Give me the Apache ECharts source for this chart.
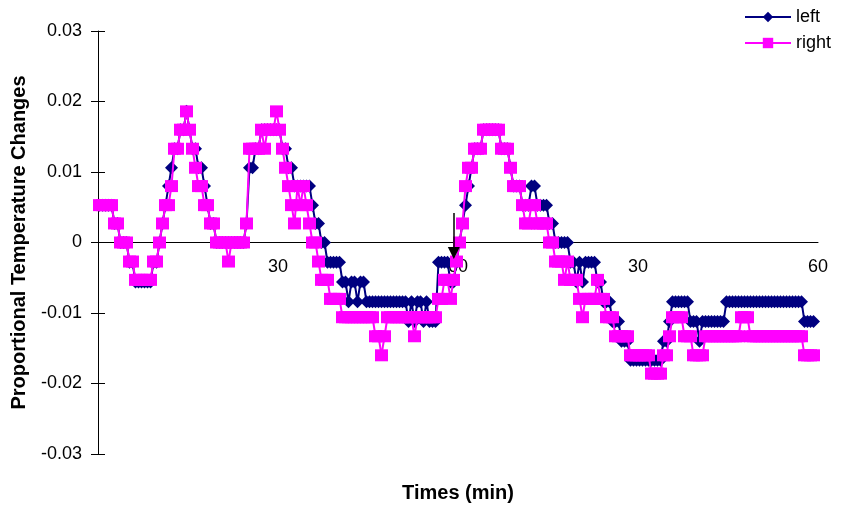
<!DOCTYPE html>
<html><head><meta charset="utf-8">
<script src="https://cdn.jsdelivr.net/npm/echarts@6/dist/echarts.min.js"></script>
<style>html,body{margin:0;padding:0;background:#fff}#c{width:841px;height:507px}</style>
</head><body><div id="c"></div>
<script>
// sample times (min), one reading every half minute, two 60-min sessions back to back
const times = Array.from({length: 239}, (_, i) => 0.25 + 0.5 * i);

const left = [
0.0053,0.0053,0.0053,0.0053,0.0053,0.0027,0.0027,0,0,0,
-0.0028,-0.0028,-0.0056,-0.0056,-0.0056,-0.0056,-0.0056,-0.0056,-0.0028,-0.0028,
0,0.0027,0.0053,0.008,0.0106,0.0133,0.0133,0.016,0.016,0.0186,
0.016,0.0133,0.0133,0.0106,0.0106,0.008,0.0053,0.0027,0.0027,0,
0,0,0,0,0,0,0,0,0,0.0027,
0.0106,0.0106,0.0133,0.0133,0.016,0.016,0.016,0.016,0.016,0.016,
0.016,0.0133,0.0133,0.0106,0.0106,0.008,0.008,0.008,0.008,0.008,
0.008,0.0053,0.0027,0.0027,0,0,-0.0028,-0.0028,-0.0028,-0.0028,
-0.0028,-0.0056,-0.0056,-0.0084,-0.0056,-0.0056,-0.0084,-0.0056,-0.0056,-0.0084,
-0.0084,-0.0084,-0.0084,-0.0084,-0.0084,-0.0084,-0.0084,-0.0084,-0.0084,-0.0084,
-0.0084,-0.0084,-0.0084,-0.0112,-0.0084,-0.0112,-0.0084,-0.0084,-0.0112,-0.0084,
-0.0112,-0.0112,-0.0112,-0.0028,-0.0028,-0.0028,-0.0028,-0.0056,-0.0056,-0.0028,
0,0.0027,0.0053,0.008,0.0106,0.0133,0.0133,0.0133,0.016,0.016,
0.016,0.016,0.016,0.016,0.0133,0.0133,0.0133,0.0106,0.008,0.008,
0.008,0.0053,0.0053,0.0053,0.008,0.008,0.0053,0.0053,0.0053,0.0053,
0.0027,0.0027,0,0,0,0,0,-0.0028,-0.0028,-0.0056,
-0.0028,-0.0056,-0.0028,-0.0028,-0.0028,-0.0028,-0.0056,-0.0056,-0.0084,-0.0084,
-0.0084,-0.0112,-0.0112,-0.0112,-0.014,-0.014,-0.014,-0.0167,-0.0167,-0.0167,
-0.0167,-0.0167,-0.0167,-0.0167,-0.0167,-0.0167,-0.0167,-0.0167,-0.014,-0.014,
-0.0112,-0.0084,-0.0084,-0.0084,-0.0084,-0.0084,-0.0084,-0.0112,-0.0112,-0.0112,
-0.014,-0.0112,-0.0112,-0.0112,-0.0112,-0.0112,-0.0112,-0.0112,-0.0112,-0.0084,
-0.0084,-0.0084,-0.0084,-0.0084,-0.0084,-0.0084,-0.0084,-0.0084,-0.0084,-0.0084,
-0.0084,-0.0084,-0.0084,-0.0084,-0.0084,-0.0084,-0.0084,-0.0084,-0.0084,-0.0084,
-0.0084,-0.0084,-0.0084,-0.0084,-0.0084,-0.0112,-0.0112,-0.0112,-0.0112
];

const right = [
0.0053,0.0053,0.0053,0.0053,0.0053,0.0027,0.0027,0,0,0,
-0.0027,-0.0027,-0.0053,-0.0053,-0.0053,-0.0053,-0.0053,-0.0053,-0.0027,-0.0027,
0,0.0027,0.0053,0.0053,0.008,0.0133,0.0133,0.016,0.016,0.0186,
0.016,0.0133,0.0106,0.008,0.008,0.0053,0.0053,0.0027,0.0027,0,
0,0,0,-0.0027,0,0,0,0,0,0.0027,
0.0133,0.0133,0.0133,0.0133,0.016,0.0133,0.016,0.016,0.016,0.0186,
0.016,0.0133,0.0106,0.008,0.0053,0.0027,0.008,0.0053,0.008,0.0053,
0.0027,0,0,-0.0027,-0.0053,-0.0053,-0.0053,-0.008,-0.008,-0.008,
-0.008,-0.0106,-0.0106,-0.0106,-0.0106,-0.0106,-0.0106,-0.0106,-0.0106,-0.0106,
-0.0106,-0.0106,-0.0133,-0.0133,-0.016,-0.0133,-0.0106,-0.0106,-0.0106,-0.0106,
-0.0106,-0.0106,-0.0106,-0.0106,-0.0106,-0.0133,-0.0106,-0.0106,-0.0106,-0.0106,
-0.0106,-0.0106,-0.0106,-0.008,-0.008,-0.0053,-0.0053,-0.008,-0.0053,-0.0027,
0,0.0027,0.008,0.0106,0.0106,0.0133,0.0133,0.0133,0.016,0.016,
0.016,0.016,0.016,0.016,0.0133,0.0133,0.0133,0.0106,0.008,0.008,
0.008,0.0053,0.0027,0.0027,0.0053,0.0053,0.0027,0.0027,0.0027,0.0027,
0,0,-0.0027,-0.0027,-0.0027,-0.0053,-0.0027,-0.0053,-0.0053,-0.0053,
-0.008,-0.0106,-0.008,-0.008,-0.008,-0.008,-0.0053,-0.008,-0.008,-0.0106,
-0.0106,-0.0106,-0.0133,-0.0133,-0.0133,-0.0133,-0.0133,-0.016,-0.016,-0.016,
-0.016,-0.016,-0.016,-0.016,-0.0186,-0.0186,-0.0186,-0.0186,-0.016,-0.016,
-0.0133,-0.0106,-0.0106,-0.0106,-0.0106,-0.0133,-0.0133,-0.0133,-0.016,-0.016,
-0.016,-0.016,-0.0133,-0.0133,-0.0133,-0.0133,-0.0133,-0.0133,-0.0133,-0.0133,
-0.0133,-0.0133,-0.0133,-0.0133,-0.0106,-0.0106,-0.0106,-0.0133,-0.0133,-0.0133,
-0.0133,-0.0133,-0.0133,-0.0133,-0.0133,-0.0133,-0.0133,-0.0133,-0.0133,-0.0133,
-0.0133,-0.0133,-0.0133,-0.0133,-0.0133,-0.016,-0.016,-0.016,-0.016
];

const xTickLabels = ['', '30', '60', '30', '60'];
const arrowX = 59.3, arrowTop = 0.0042, arrowTip = -0.0015;

const FONT = 'Liberation Sans, Arial, sans-serif';
const GRID = {left: 98, right: 23, top: 31, bottom: 53};
const plotH = 507 - GRID.top - GRID.bottom;
const plotW = 841 - GRID.left - GRID.right;
const chart = echarts.init(document.getElementById('c'), null, {renderer: 'canvas'});
chart.setOption({
  animation: false,
  backgroundColor: '#fff',
  grid: Object.assign({containLabel: false, outerBoundsMode: 'none'}, GRID),
  legend: {
    data: ['left', 'right'], orient: 'vertical', left: 739, top: 3,
    itemWidth: 46, itemHeight: 13, itemGap: 8,
    textStyle: {fontFamily: FONT, fontSize: 18, color: '#000'}
  },
  xAxis: {
    type: 'value', min: 0, max: 120, interval: 30,
    offset: -plotH / 2,
    name: 'Times (min)', nameLocation: 'middle', nameGap: 241,
    nameTextStyle: {fontFamily: FONT, fontSize: 20, fontWeight: 'bold', color: '#000'},
    axisLine: {show: true, onZero: false, lineStyle: {color: '#000', width: 1}},
    axisTick: {show: false},
    splitLine: {show: false},
    axisLabel: {
      margin: 16, fontFamily: FONT, fontSize: 18, color: '#000',
      formatter: v => xTickLabels[Math.round(v / 30)] || ''
    }
  },
  yAxis: [{
    type: 'value', min: -0.03, max: 0.03, interval: 0.01, position: 'left',
    name: 'Proportional Temperature Changes', nameLocation: 'middle', nameGap: 69,
    nameTextStyle: {fontFamily: FONT, fontSize: 20, fontWeight: 'bold', color: '#000'},
    axisLine: {show: true, onZero: false, lineStyle: {color: '#000', width: 1}},
    axisTick: {show: true, length: 7, lineStyle: {color: '#000'}},
    splitLine: {show: false},
    axisLabel: {
      margin: 16, fontFamily: FONT, fontSize: 18, color: '#000',
      formatter: v => Math.abs(v) < 1e-9 ? '0' : v.toFixed(2)
    }
  }, {
    type: 'value', min: -0.03, max: 0.03, interval: 0.01, position: 'right', offset: -plotW,
    axisLine: {show: false, onZero: false},
    axisTick: {show: true, inside: false, length: 7, lineStyle: {color: '#000'}},
    axisLabel: {show: false}, splitLine: {show: false}
  }],
  series: [{
    name: 'left', type: 'line', data: times.map((t, i) => [t, left[i]]),
    symbol: 'diamond', symbolSize: 13, showAllSymbol: true,
    lineStyle: {color: '#000080', width: 2}, itemStyle: {color: '#000080'},
    z: 2
  }, {
    name: 'right', type: 'line', data: times.map((t, i) => [t, right[i]]),
    symbol: 'rect', symbolSize: [13, 12], showAllSymbol: true,
    lineStyle: {color: '#FF00FF', width: 2}, itemStyle: {color: '#FF00FF'},
    z: 3
  }, {
    name: 'arrow', type: 'line', yAxisIndex: 1, data: [], z: 5,
    markLine: {
      silent: true, animation: false, symbol: ['none', 'triangle'], symbolSize: [12, 12],
      lineStyle: {color: '#000', width: 1.5, type: 'solid'}, label: {show: false},
      data: [[{coord: [arrowX, arrowTop]}, {coord: [arrowX, arrowTip]}]]
    }
  }]
});
</script></body></html>
